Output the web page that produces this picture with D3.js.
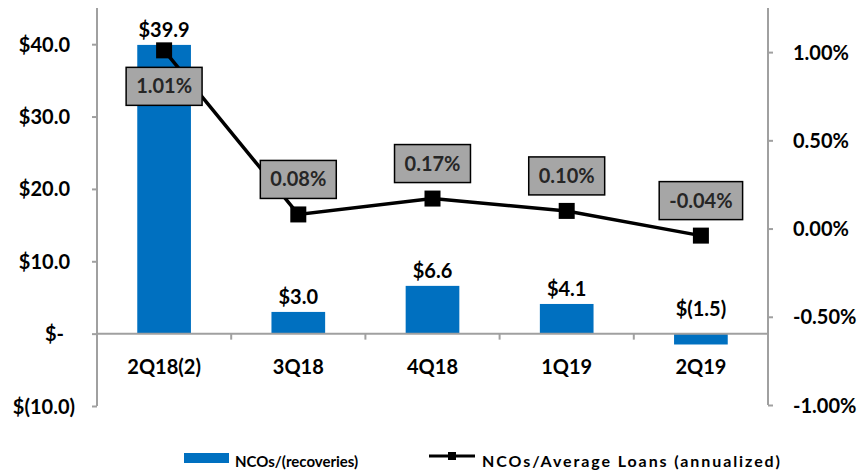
<!DOCTYPE html>
<html>
<head>
<meta charset="utf-8">
<script src="https://cdn.jsdelivr.net/npm/d3@7"></script>
<style>
  html, body { margin: 0; padding: 0; background: #fff; }
  svg { display: block; font-family: Lato, "Open Sans", sans-serif; font-weight: bold; }
</style>
</head>
<body>
<svg id="chart" width="861" height="471"></svg>
<script>
// Quarterly net charge-offs ($ millions) and NCO ratio (annualized, %)
const quarters = ["2Q18(2)", "3Q18", "4Q18", "1Q19", "2Q19"];
const ncoValues = [39.9, 3.0, 6.6, 4.1, -1.5];
const ncoRatio = [1.01, 0.08, 0.17, 0.10, -0.04];
const leftTicks = [-10, 0, 10, 20, 30, 40];
const rightTicks = [-1.0, -0.5, 0, 0.5, 1.0];
const legendLabels = ["NCOs/(recoveries)", "NCOs/Average Loans (annualized)"];

const svg = d3.select("#chart");
const plotLeft = 97, plotRight = 768;
const blue = "#0070C0", axisGrey = "#a0a0a0";

const x = d3.scaleBand().domain(quarters).range([plotLeft, plotRight]);
const yL = d3.scaleLinear().domain([-10, 45]).range([406, 8]);
const yR = d3.scaleLinear().domain([-1.0, 1.25]).range([405, 8]);
const cx = q => x(q) + x.bandwidth() / 2;
const barW = x.bandwidth() * 0.4;

// money formatting in accounting style
const money = v => v === 0 ? "$-" : v < 0 ? `$(${Math.abs(v).toFixed(1)})` : `$${v.toFixed(1)}`;
const pct = v => `${v.toFixed(2)}%`;

// Bars
svg.append("g").selectAll("rect").data(quarters).join("rect")
  .attr("x", q => cx(q) - barW / 2)
  .attr("width", barW)
  .attr("y", (q, i) => yL(Math.max(0, ncoValues[i])))
  .attr("height", (q, i) => Math.abs(yL(ncoValues[i]) - yL(0)))
  .attr("fill", blue);

// Left axis
const gL = svg.append("g").attr("transform", `translate(${plotLeft},0)`)
  .call(d3.axisLeft(yL).tickValues(leftTicks).tickSize(5).tickFormat(money));
gL.select(".domain").attr("d", `M-0,${yL(45)}V${yL(-10)}`);
gL.selectAll(".domain, .tick line").attr("stroke", axisGrey).attr("stroke-width", 2);
gL.selectAll(".tick text")
  .attr("fill", "#000").attr("font-size", 20).attr("font-family", "Lato, sans-serif").attr("font-weight", "bold")
  .attr("x", d => d > 0 ? -27 : d === 0 ? -33 : -22)
  .attr("dy", "0.35em");

// Right axis
const gR = svg.append("g").attr("transform", `translate(${plotRight},0)`)
  .call(d3.axisRight(yR).tickValues(rightTicks).tickSize(5).tickFormat(pct));
gR.select(".domain").attr("d", `M0,${yR(1.25)}V${yR(-1)}`);
gR.selectAll(".domain, .tick line").attr("stroke", axisGrey).attr("stroke-width", 2);
gR.selectAll(".tick text")
  .attr("fill", "#000").attr("font-size", 20).attr("font-family", "Lato, sans-serif").attr("font-weight", "bold")
  .attr("x", 25).attr("dy", "0.35em");

// Category (zero) axis
const gX = svg.append("g").attr("transform", `translate(0,${yL(0)})`)
  .call(d3.axisBottom(x).tickSize(0).tickPadding(33));
gX.select(".domain").attr("d", `M${plotLeft},0H${plotRight}`).attr("stroke", axisGrey).attr("stroke-width", 2);
gX.selectAll(".tick text")
  .attr("fill", "#000").attr("font-size", 20).attr("font-family", "Lato, sans-serif").attr("font-weight", "bold")
  .attr("dy", "0.35em");
// tick marks between categories
gX.append("g").selectAll("line").data(quarters.slice(1)).join("line")
  .attr("x1", q => x(q)).attr("x2", q => x(q))
  .attr("y1", 0).attr("y2", 6)
  .attr("stroke", axisGrey).attr("stroke-width", 2);

// Bar value labels
svg.append("g").selectAll("text").data(quarters).join("text")
  .attr("x", q => cx(q))
  .attr("y", (q, i) => ncoValues[i] >= 0 ? yL(ncoValues[i]) - 8 : yL(0) - 18)
  .attr("text-anchor", "middle")
  .attr("font-size", 20).attr("fill", "#000")
  .text((q, i) => money(ncoValues[i]));

// Ratio line
const line = d3.line().x(d => cx(d.q)).y(d => yR(d.v));
const pts = quarters.map((q, i) => ({ q, v: ncoRatio[i], i }));
svg.append("path").datum(pts)
  .attr("d", line).attr("fill", "none")
  .attr("stroke", "#000").attr("stroke-width", 3.5);
svg.append("g").selectAll("rect").data(pts).join("rect")
  .attr("x", d => cx(d.q) - 8).attr("y", d => yR(d.v) - 8)
  .attr("width", 16).attr("height", 16).attr("fill", "#000");

// Ratio labels in grey boxes
const lbl = svg.append("g").selectAll("g").data(pts).join("g")
  .attr("transform", d => `translate(${cx(d.q)},${yR(d.v) + (d.i === 0 ? 36 : -35)})`);
lbl.append("text")
  .attr("text-anchor", "middle").attr("dy", "0.35em")
  .attr("font-size", 20).attr("fill", "#262626")
  .text(d => pct(d.v));
lbl.each(function () {
  const g = d3.select(this);
  const w = g.select("text").node().getComputedTextLength() + 20;
  g.insert("rect", "text")
    .attr("x", -w / 2).attr("y", -19).attr("width", w).attr("height", 38)
    .attr("fill", "#a6a6a6").attr("stroke", "#000").attr("stroke-width", 1.5);
});

// Legend
const leg = svg.append("g").attr("fill", "#000");
leg.append("rect").attr("x", 184).attr("y", 453).attr("width", 45).attr("height", 10).attr("fill", blue);
leg.append("text").attr("x", 235).attr("y", 467).attr("font-size", 15)
  .text(legendLabels[0]);
leg.append("line").attr("x1", 429).attr("x2", 475).attr("y1", 456).attr("y2", 456)
  .attr("stroke", "#000").attr("stroke-width", 3);
leg.append("rect").attr("x", 448).attr("y", 452).attr("width", 8).attr("height", 8).attr("fill", "#000");
leg.append("text").attr("x", 482).attr("y", 467).attr("font-size", 16)
  .attr("textLength", 298).attr("lengthAdjust", "spacing")
  .text(legendLabels[1]);
</script>
</body>
</html>
